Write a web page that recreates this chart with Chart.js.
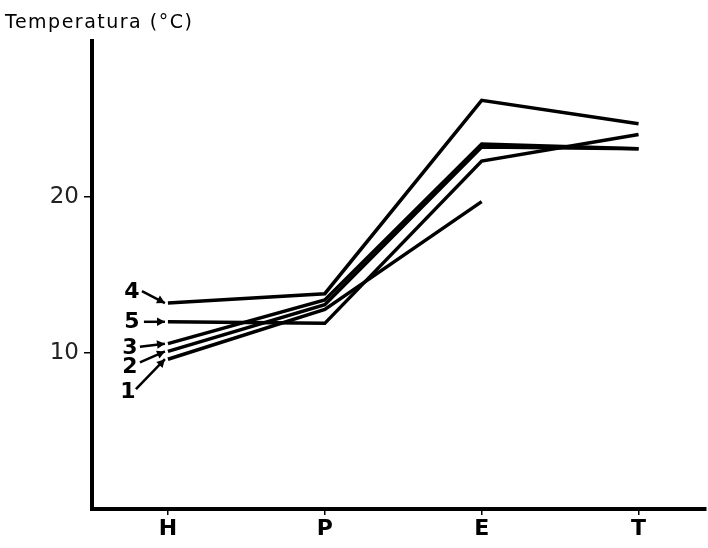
<!DOCTYPE html>
<html>
<head>
<meta charset="utf-8">
<script src="https://cdn.jsdelivr.net/npm/chart.js@4.4.1/dist/chart.umd.min.js"></script>
<style>
  html, body { margin: 0; padding: 0; background: #fff; }
  #wrap { width: 708px; height: 548px; }
</style>
</head>
<body>
<div id="wrap"><canvas id="tempChart" width="708" height="548"></canvas></div>
<script>
// estaciones del año
var estaciones = ['H', 'P', 'E', 'T'];
// temperatura media (°C) de cada serie
var serie1 = [9.6, 12.8, 19.7, null];
var serie2 = [10.1, 13.1, 23.2, 23.1];
var serie3 = [10.6, 13.4, 23.4, 23.1];
var serie4 = [13.2, 13.8, 26.2, 24.7];
var serie5 = [12.0, 11.9, 22.3, 24.0];
var nombres = ['1', '2', '3', '4', '5'];
var marcasY = [10, 20];
var tituloY = 'Temperatura (°C)';

var series = [serie1, serie2, serie3, serie4, serie5];

// posicion de cada numero y de su flecha respecto al primer punto
var etiquetas = [
    { tx: -40, ty: 33, ax: -32, ay: 30 },
    { tx: -38, ty: 16, ax: -28, ay: 11 },
    { tx: -38, ty: 5, ax: -28, ay: 3 },
    { tx: -36, ty: -11, ax: -26, ay: -12 },
    { tx: -36, ty: 0, ax: -24, ay: 0 }
];

var datasets = series.map(function(s, i) {
    return {
        label: nombres[i],
        data: s.map(function(v, j) { return { x: j, y: v }; }),
        borderColor: '#000',
        borderWidth: 3.5,
        pointRadius: 0,
        tension: 0,
        fill: false,
        spanGaps: false
    };
});

// numeros 1-5 con flechas y titulo del eje
var rotulos = {
    id: 'rotulos',
    afterDraw: function(chart) {
        var c = chart.ctx;
        var sx = chart.scales.x, sy = chart.scales.y;
        c.save();
        c.fillStyle = '#000';
        c.strokeStyle = '#000';
        c.font = 'bold 22px "DejaVu Sans"';
        c.textAlign = 'center';
        c.textBaseline = 'middle';
        series.forEach(function(s, i) {
            var px = sx.getPixelForValue(0);
            var py = sy.getPixelForValue(s[0]);
            var e = etiquetas[i];
            c.fillText(nombres[i], px + e.tx, py + e.ty);
            var x0 = px + e.ax, y0 = py + e.ay;
            var x1 = px - 3, y1 = py;
            var ang = Math.atan2(y1 - y0, x1 - x0);
            c.lineWidth = 2.5;
            c.beginPath();
            c.moveTo(x0, y0);
            c.lineTo(x1, y1);
            c.stroke();
            c.beginPath();
            c.moveTo(x1, y1);
            c.lineTo(x1 - 9 * Math.cos(ang - 0.5), y1 - 9 * Math.sin(ang - 0.5));
            c.lineTo(x1 - 9 * Math.cos(ang + 0.5), y1 - 9 * Math.sin(ang + 0.5));
            c.closePath();
            c.fill();
        });
        c.font = '19px "DejaVu Sans"';
        c.letterSpacing = '1.5px';
        c.textAlign = 'left';
        c.textBaseline = 'alphabetic';
        c.fillText(tituloY, 5, 28);
        c.restore();
    }
};

var ctx = document.getElementById('tempChart').getContext('2d');
var tempChart = new Chart(ctx, {
    type: 'line',
    data: { datasets: datasets },
    plugins: [rotulos],
    options: {
        responsive: false,
        animation: false,
        layout: { padding: { top: 41, right: 2, left: 0, bottom: 0 } },
        plugins: {
            legend: { display: false },
            tooltip: { enabled: false }
        },
        scales: {
            x: {
                type: 'linear',
                min: -0.484,
                max: 3.43,
                afterBuildTicks: function(scale) {
                    scale.ticks = estaciones.map(function(e, i) { return { value: i }; });
                },
                afterFit: function(scale) { scale.height = 39; },
                border: { display: true, color: '#000', width: 4 },
                grid: { display: true, drawOnChartArea: false, drawTicks: true, tickLength: 6, color: '#000', lineWidth: 1.5 },
                ticks: {
                    color: '#000',
                    font: { family: 'DejaVu Sans', size: 22, weight: 'bold' },
                    padding: 1,
                    maxRotation: 0,
                    callback: function(v) { return estaciones[v]; }
                }
            },
            y: {
                min: 0,
                max: 30,
                afterBuildTicks: function(scale) {
                    scale.ticks = marcasY.map(function(v) { return { value: v }; });
                },
                afterFit: function(scale) { scale.width = 92; },
                border: { display: true, color: '#000', width: 4 },
                grid: { display: true, drawOnChartArea: false, drawTicks: true, tickLength: 8, color: '#000', lineWidth: 1.5 },
                ticks: {
                    color: '#222',
                    font: { family: 'DejaVu Sans', size: 23 },
                    padding: 5
                }
            }
        }
    }
});
</script>
</body>
</html>
